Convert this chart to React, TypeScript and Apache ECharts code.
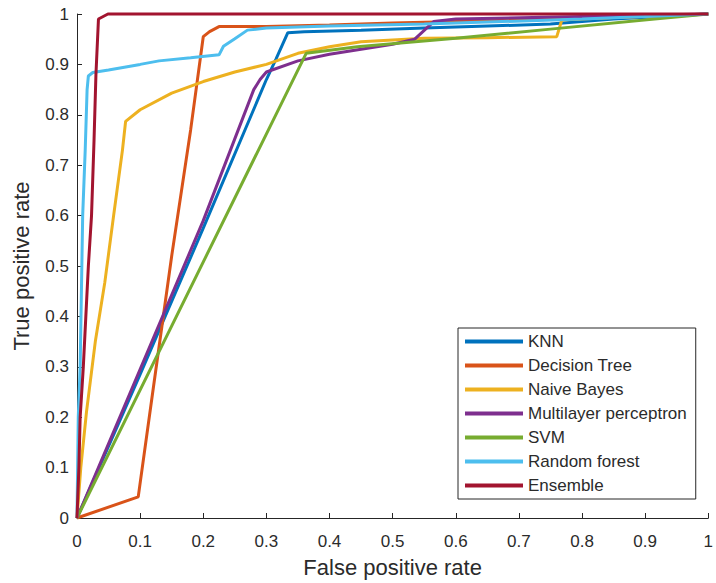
import React, { useEffect, useRef } from "react";
import * as echarts from "echarts";

const modelNames = ["KNN", "Decision Tree", "Naive Bayes", "Multilayer perceptron", "SVM", "Random forest", "Ensemble"];
const modelColors = ["#0072BD", "#D95319", "#EDB120", "#7E2F8E", "#77AC30", "#4DBEEE", "#A2142F"];

const knnFpr = [0, 0.1, 0.2, 0.3, 0.315, 0.334, 0.36, 0.45, 0.55, 0.65, 0.75, 0.85, 1];
const knnTpr = [0, 0.285, 0.575, 0.87, 0.91, 0.963, 0.965, 0.968, 0.972, 0.976, 0.98, 0.99, 1];

const dtFpr = [0, 0.097, 0.12, 0.15, 0.18, 0.2, 0.21, 0.225, 0.3, 0.4, 0.5, 0.7, 0.85, 1];
const dtTpr = [0, 0.042, 0.25, 0.52, 0.77, 0.955, 0.965, 0.975, 0.975, 0.978, 0.982, 0.988, 0.993, 1];

const nbFpr = [0, 0.006, 0.015, 0.029, 0.044, 0.058, 0.072, 0.077, 0.1, 0.15, 0.2, 0.25, 0.3, 0.35, 0.4, 0.45, 0.55, 0.65, 0.76, 0.768, 0.85, 1];
const nbTpr = [0, 0.1, 0.21, 0.35, 0.467, 0.6, 0.73, 0.787, 0.81, 0.843, 0.866, 0.885, 0.9, 0.922, 0.935, 0.945, 0.952, 0.953, 0.955, 0.988, 0.993, 1];

const mlpFpr = [0, 0.1, 0.2, 0.28, 0.29, 0.3, 0.35, 0.4, 0.45, 0.5, 0.535, 0.565, 0.6, 0.8, 1];
const mlpTpr = [0, 0.295, 0.59, 0.85, 0.87, 0.885, 0.907, 0.92, 0.93, 0.94, 0.95, 0.985, 0.99, 0.995, 1];

const svmFpr = [0, 0.363, 0.444, 0.6, 0.75, 0.915, 1];
const svmTpr = [0, 0.922, 0.935, 0.952, 0.97, 0.99, 1];

const rfFpr = [0, 0.002, 0.005, 0.009, 0.013, 0.016, 0.018, 0.025, 0.05, 0.1, 0.13, 0.18, 0.225, 0.232, 0.25, 0.27, 0.3, 0.4, 0.55, 0.8, 1];
const rfTpr = [0, 0.2, 0.3, 0.6, 0.73, 0.85, 0.877, 0.884, 0.889, 0.9, 0.907, 0.913, 0.919, 0.936, 0.951, 0.968, 0.972, 0.976, 0.98, 0.99, 1];

const ensFpr = [0, 0.003, 0.005, 0.01, 0.014, 0.018, 0.023, 0.027, 0.03, 0.034, 0.049, 1];
const ensTpr = [0, 0.1, 0.2, 0.3, 0.4, 0.5, 0.6, 0.75, 0.88, 0.99, 1, 1];

const fprList = [knnFpr, dtFpr, nbFpr, mlpFpr, svmFpr, rfFpr, ensFpr];
const tprList = [knnTpr, dtTpr, nbTpr, mlpTpr, svmTpr, rfTpr, ensTpr];

const FONT = "'Liberation Sans', Arial, Helvetica, sans-serif";
const TEXT = "#2b2b2b";

export default function App() {
  const ref = useRef<HTMLDivElement>(null);
  useEffect(() => {
    document.body.style.margin = "0";
    if (!ref.current) return;
    const chart = echarts.init(ref.current, null, { renderer: "svg" });
    const fmt = (v: number) => String(parseFloat(Number(v).toFixed(1)));
    const axisCommon = {
      type: "value" as const,
      min: 0,
      max: 1,
      interval: 0.1,
      nameLocation: "middle" as const,
      nameTextStyle: { fontFamily: FONT, fontSize: 22, color: TEXT },
      axisLine: { show: true, lineStyle: { color: "#262626", width: 1 } },
      axisTick: { show: true, inside: true, length: 5, lineStyle: { color: "#262626" } },
      splitLine: { show: false },
    };
    chart.setOption({
      animation: false,
      backgroundColor: "#ffffff",
      grid: { left: 77, right: 2, top: 14, bottom: 65, containLabel: false },
      legend: {
        orient: "vertical",
        left: 458,
        top: 328,
        padding: [5, 9, 5, 7],
        itemWidth: 58,
        itemHeight: 4,
        itemGap: 7,
        icon: "rect",
        borderColor: "#262626",
        borderWidth: 1,
        backgroundColor: "#ffffff",
        textStyle: { fontFamily: FONT, fontSize: 17, color: TEXT, lineHeight: 17 },
        data: modelNames,
      },
      xAxis: {
        ...axisCommon,
        name: "False positive rate",
        nameGap: 38,
        axisLabel: { fontFamily: FONT, fontSize: 17, color: TEXT, margin: 15, formatter: fmt },
      },
      yAxis: {
        ...axisCommon,
        name: "True positive rate",
        nameGap: 45,
        axisLabel: { fontFamily: FONT, fontSize: 17, color: TEXT, margin: 8, formatter: fmt },
      },
      series: modelNames.map((name, i) => ({
        name,
        type: "line",
        data: fprList[i].map((x, j) => [x, tprList[i][j]]),
        showSymbol: false,
        symbol: "none",
        clip: false,
        lineStyle: { color: modelColors[i], width: 3 },
        itemStyle: { color: modelColors[i] },
        z: 2 + i,
      })),
    });
    return () => chart.dispose();
  }, []);
  return <div ref={ref} style={{ width: 716, height: 583 }} />;
}
